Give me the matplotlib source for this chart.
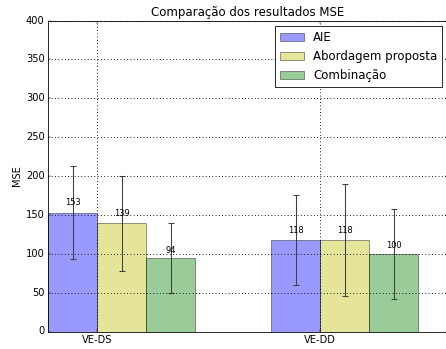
import numpy as np
import matplotlib
matplotlib.use("Agg")
import matplotlib.pyplot as plt

plt.style.use("classic")

groups = ["VE-DS", "VE-DD"]
series = ["AIE", "Abordagem proposta", "Combinação"]
means_aie = [153, 118]
means_prop = [139, 118]
means_comb = [94, 100]
err_aie = [60, 58]
err_prop = [61, 72]
err_comb = [45, 58]
colors = ["b", "y", "g"]

dpi = 59
fig = plt.figure(figsize=(446 / dpi, 349 / dpi), dpi=dpi, facecolor="white")
ax = fig.add_axes([48 / 446, 17.5 / 349, 400 / 446, 311 / 349])

ind = np.arange(len(groups))
width = 0.22

all_means = [means_aie, means_prop, means_comb]
all_errs = [err_aie, err_prop, err_comb]
for k, (m, e, c, name) in enumerate(zip(all_means, all_errs, colors, series)):
    rects = ax.bar(ind + k * width, m, width, color=c, alpha=0.4, align="edge",
                   yerr=e, label=name, linewidth=1.2,
                   error_kw=dict(ecolor="0.25", capsize=4, elinewidth=1.3, capthick=1.3))
    for r in rects:
        h = r.get_height()
        ax.text(r.get_x() + r.get_width() / 2.0, 1.05 * h, "%d" % int(h),
                ha="center", va="bottom", fontsize=10)

ax.set_ylabel("MSE", fontsize=12)
ax.set_title("Comparação dos resultados MSE", fontsize=14.4)
ax.set_xticks(ind + width)
ax.set_xticklabels(groups)
ax.set_ylim(0, 400)
ax.set_xlim(0, 400 / 223)
ax.grid(True, color="k", linestyle=":", linewidth=1.2)
ax.set_axisbelow(False)
ax.legend(loc="upper right", fontsize=14.4)

fig.savefig("out.png", dpi=dpi, facecolor="white")
